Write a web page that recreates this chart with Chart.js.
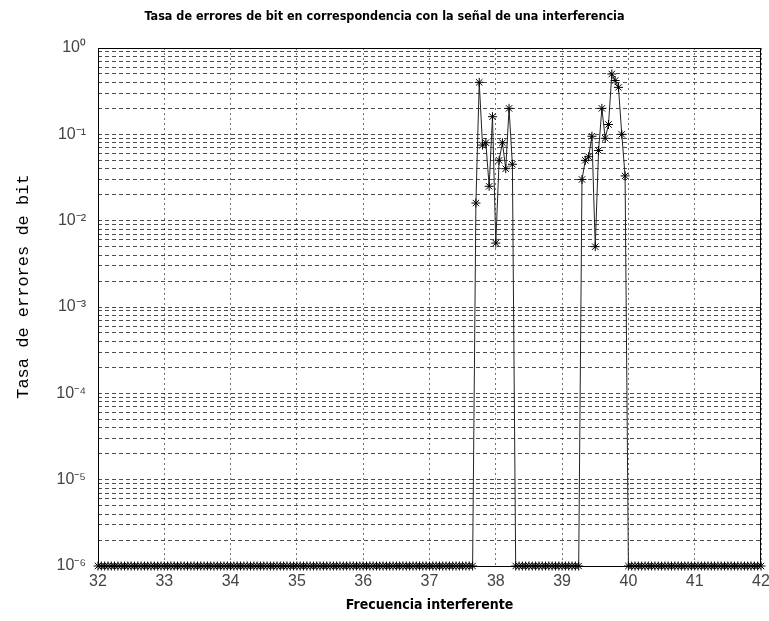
<!DOCTYPE html>
<html>
<head>
<meta charset="utf-8">
<script src="https://cdn.jsdelivr.net/npm/chart.js@4"></script>
<style>
  html, body { margin: 0; padding: 0; background: #ffffff; }
  #wrap { width: 769px; height: 621px; }
</style>
</head>
<body>
<div id="wrap"><canvas id="c" width="769" height="621"></canvas></div>
<script>
// Interfering-tone frequency sweep (same units as the x axis)
const frequency = [
  32.00, 32.05, 32.10, 32.15, 32.20, 32.25, 32.30, 32.35, 32.40, 32.45,
  32.50, 32.55, 32.60, 32.65, 32.70, 32.75, 32.80, 32.85, 32.90, 32.95,
  33.00, 33.05, 33.10, 33.15, 33.20, 33.25, 33.30, 33.35, 33.40, 33.45,
  33.50, 33.55, 33.60, 33.65, 33.70, 33.75, 33.80, 33.85, 33.90, 33.95,
  34.00, 34.05, 34.10, 34.15, 34.20, 34.25, 34.30, 34.35, 34.40, 34.45,
  34.50, 34.55, 34.60, 34.65, 34.70, 34.75, 34.80, 34.85, 34.90, 34.95,
  35.00, 35.05, 35.10, 35.15, 35.20, 35.25, 35.30, 35.35, 35.40, 35.45,
  35.50, 35.55, 35.60, 35.65, 35.70, 35.75, 35.80, 35.85, 35.90, 35.95,
  36.00, 36.05, 36.10, 36.15, 36.20, 36.25, 36.30, 36.35, 36.40, 36.45,
  36.50, 36.55, 36.60, 36.65, 36.70, 36.75, 36.80, 36.85, 36.90, 36.95,
  37.00, 37.05, 37.10, 37.15, 37.20, 37.25, 37.30, 37.35, 37.40, 37.45,
  37.50, 37.55, 37.60, 37.65, 37.70, 37.75, 37.80, 37.85, 37.90, 37.95,
  38.00, 38.05, 38.10, 38.15, 38.20, 38.25, 38.30, 38.35, 38.40, 38.45,
  38.50, 38.55, 38.60, 38.65, 38.70, 38.75, 38.80, 38.85, 38.90, 38.95,
  39.00, 39.05, 39.10, 39.15, 39.20, 39.25, 39.30, 39.35, 39.40, 39.45,
  39.50, 39.55, 39.60, 39.65, 39.70, 39.75, 39.80, 39.85, 39.90, 39.95,
  40.00, 40.05, 40.10, 40.15, 40.20, 40.25, 40.30, 40.35, 40.40, 40.45,
  40.50, 40.55, 40.60, 40.65, 40.70, 40.75, 40.80, 40.85, 40.90, 40.95,
  41.00, 41.05, 41.10, 41.15, 41.20, 41.25, 41.30, 41.35, 41.40, 41.45,
  41.50, 41.55, 41.60, 41.65, 41.70, 41.75, 41.80, 41.85, 41.90, 41.95,
  42.00
];

// Measured bit error rate; 1e-6 is the measurement floor (no errors seen)
const bitErrorRate = [
  1e-6, 1e-6, 1e-6, 1e-6, 1e-6, 1e-6, 1e-6, 1e-6, 1e-6, 1e-6,
  1e-6, 1e-6, 1e-6, 1e-6, 1e-6, 1e-6, 1e-6, 1e-6, 1e-6, 1e-6,
  1e-6, 1e-6, 1e-6, 1e-6, 1e-6, 1e-6, 1e-6, 1e-6, 1e-6, 1e-6,
  1e-6, 1e-6, 1e-6, 1e-6, 1e-6, 1e-6, 1e-6, 1e-6, 1e-6, 1e-6,
  1e-6, 1e-6, 1e-6, 1e-6, 1e-6, 1e-6, 1e-6, 1e-6, 1e-6, 1e-6,
  1e-6, 1e-6, 1e-6, 1e-6, 1e-6, 1e-6, 1e-6, 1e-6, 1e-6, 1e-6,
  1e-6, 1e-6, 1e-6, 1e-6, 1e-6, 1e-6, 1e-6, 1e-6, 1e-6, 1e-6,
  1e-6, 1e-6, 1e-6, 1e-6, 1e-6, 1e-6, 1e-6, 1e-6, 1e-6, 1e-6,
  1e-6, 1e-6, 1e-6, 1e-6, 1e-6, 1e-6, 1e-6, 1e-6, 1e-6, 1e-6,
  1e-6, 1e-6, 1e-6, 1e-6, 1e-6, 1e-6, 1e-6, 1e-6, 1e-6, 1e-6,
  1e-6, 1e-6, 1e-6, 1e-6, 1e-6, 1e-6, 1e-6, 1e-6, 1e-6, 1e-6,
  1e-6, 1e-6, 1e-6, 1e-6, 0.016, 0.40, 0.075, 0.08, 0.025, 0.16,
  0.0055, 0.05, 0.08, 0.04, 0.20, 0.045, 1e-6, 1e-6, 1e-6, 1e-6,
  1e-6, 1e-6, 1e-6, 1e-6, 1e-6, 1e-6, 1e-6, 1e-6, 1e-6, 1e-6,
  1e-6, 1e-6, 1e-6, 1e-6, 1e-6, 1e-6, 0.03, 0.05, 0.055, 0.095,
  0.005, 0.065, 0.20, 0.09, 0.13, 0.50, 0.42, 0.35, 0.10, 0.033,
  1e-6, 1e-6, 1e-6, 1e-6, 1e-6, 1e-6, 1e-6, 1e-6, 1e-6, 1e-6,
  1e-6, 1e-6, 1e-6, 1e-6, 1e-6, 1e-6, 1e-6, 1e-6, 1e-6, 1e-6,
  1e-6, 1e-6, 1e-6, 1e-6, 1e-6, 1e-6, 1e-6, 1e-6, 1e-6, 1e-6,
  1e-6, 1e-6, 1e-6, 1e-6, 1e-6, 1e-6, 1e-6, 1e-6, 1e-6, 1e-6,
  1e-6
];

// Axis ticks
const xTicks = [32, 33, 34, 35, 36, 37, 38, 39, 40, 41, 42];
const decadeExponents = [-6, -5, -4, -3, -2, -1];
const significands = [1, 2, 3, 4, 5, 6, 7, 8, 9];
const yTickValues = [];
decadeExponents.forEach(e => significands.forEach(s => yTickValues.push(+(s * Math.pow(10, e)).toPrecision(3))));
yTickValues.push(1);

const SUP = { '-': '\u207B', '0': '\u2070', '1': '\u00B9', '2': '\u00B2', '3': '\u00B3',
              '4': '\u2074', '5': '\u2075', '6': '\u2076', '7': '\u2077', '8': '\u2078', '9': '\u2079' };
function powerLabel(v) {
  const e = Math.round(Math.log10(v));
  if (Math.abs(v / Math.pow(10, e) - 1) > 1e-6) return '';
  return '10' + String(e).split('').map(ch => SUP[ch]).join('');
}

const points = frequency.map((f, i) => ({ x: f, y: bitErrorRate[i] }));

// Solid frame around the plotting area
const framePlugin = {
  id: 'frame',
  afterDraw(chart) {
    const a = chart.chartArea, ctx = chart.ctx;
    ctx.save();
    ctx.strokeStyle = '#000';
    ctx.lineWidth = 1;
    ctx.strokeRect(Math.round(a.left) + 0.5, Math.round(a.top) + 0.5,
                   Math.round(a.right - a.left) - 1, Math.round(a.bottom - a.top));
    ctx.restore();
  }
};

const condensed = '"DejaVu Sans Condensed", "Liberation Sans Narrow", "DejaVu Sans", sans-serif';

new Chart(document.getElementById('c'), {
  type: 'line',
  data: {
    datasets: [{
      data: points,
      borderColor: '#222',
      borderWidth: 1,
      pointStyle: 'star',
      pointRadius: 4.5,
      pointBorderColor: '#000',
      pointBorderWidth: 1,
      pointBackgroundColor: '#000',
      tension: 0,
      clip: false
    }]
  },
  options: {
    responsive: false,
    animation: false,
    devicePixelRatio: 1,
    layout: { padding: { top: 0, right: 0, bottom: 0, left: 0 } },
    plugins: {
      legend: { display: false },
      tooltip: { enabled: false },
      title: {
        display: true,
        text: 'Tasa de errores de bit en correspondencia con la señal de una interferencia',
        color: '#000',
        font: { family: condensed, size: 12.5, weight: 'bold' },
        padding: { top: 9, bottom: 24 }
      }
    },
    scales: {
      x: {
        type: 'linear',
        min: 32,
        max: 42,
        afterBuildTicks(scale) { scale.ticks = xTicks.map(v => ({ value: v })); },
        afterFit(scale) {
          scale.height = 55;
          scale.paddingLeft = 0;
          scale.paddingRight = 8;
        },
        grid: { color: 'rgba(0,0,0,0.55)', lineWidth: 1, drawTicks: false },
        border: { display: false, dash: [2, 3] },
        ticks: {
          color: '#444',
          padding: 6,
          font: { family: '"Liberation Sans", Arial, sans-serif', size: 16 },
          maxRotation: 0,
          autoSkip: false
        },
        title: {
          display: true,
          text: 'Frecuencia interferente',
          color: '#000',
          font: { family: condensed, size: 14, weight: 'bold' },
          padding: { top: 0, bottom: 7 }
        }
      },
      y: {
        type: 'logarithmic',
        min: 1e-6,
        max: 1,
        afterBuildTicks(scale) { scale.ticks = yTickValues.map(v => ({ value: v })); },
        afterFit(scale) { scale.width = 98; },
        grid: { color: 'rgba(0,0,0,0.7)', lineWidth: 1, drawTicks: false },
        border: { display: false, dash: [4, 3] },
        ticks: {
          color: '#444',
          padding: 12,
          autoSkip: false,
          font: { family: '"Liberation Sans", Arial, sans-serif', size: 16 },
          callback: (v) => powerLabel(v)
        },
        title: {
          display: true,
          text: '    Tasa de errores de bit',
          color: '#000',
          font: { family: '"Liberation Mono", "DejaVu Sans Mono", monospace', size: 17 },
          padding: { top: 13, bottom: 0 }
        }
      }
    }
  },
  plugins: [framePlugin]
});
</script>
</body>
</html>
